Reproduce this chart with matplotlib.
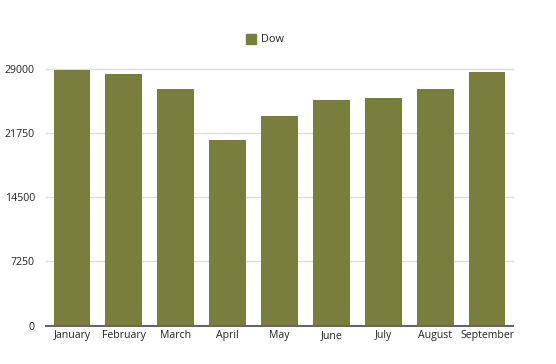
import matplotlib
matplotlib.use("Agg")
import matplotlib.pyplot as plt
from matplotlib.patches import Rectangle

months = ["January", "February", "March", "April", "May", "June", "July", "August", "September"]
dow = [28820, 28370, 26670, 20950, 23690, 25470, 25730, 26670, 28630]
yticks = [0, 7250, 14500, 21750, 29000]

plt.rcParams["font.family"] = ["Open Sans", "DejaVu Sans"]

fig = plt.figure(figsize=(5.56, 3.64), dpi=100)
W, H = 556, 364
left, right = 46, 513
bottom, top = 325.5, 68.7
ymax = 29000
ax = fig.add_axes([left / W, 1 - bottom / H, (right - left) / W, (bottom - top) / H])

bar_color = "#7a7e3c"
x = range(len(months))
ax.bar(x, dow, width=0.71, color=bar_color, zorder=2)
ax.set_xlim(-0.5, len(months) - 0.5)
ax.set_ylim(0, ymax)
ax.set_yticks(yticks)
ax.set_yticklabels([str(v) for v in yticks])
ax.set_xticks(list(x))
ax.set_xticklabels(months)
ax.tick_params(axis="both", length=0, labelsize=7.6, colors="#222222")
ax.tick_params(axis="y", pad=8)
ax.tick_params(axis="x", pad=3)

for v in yticks[1:]:
    ax.axhline(v, color="#dcdcdc", lw=1, zorder=1, clip_on=False)
ax.axhline(0, color="#666666", lw=1.5, zorder=3, clip_on=False)
for s in ax.spines.values():
    s.set_visible(False)
ax.set_facecolor("none")

# legend
fig.patches.append(Rectangle((246 / W, 1 - 43.5 / H), 9.5 / W, 9.5 / H,
                             transform=fig.transFigure, color=bar_color))
fig.text(261 / W, 1 - 39 / H, "Dow", fontsize=7.8, va="center", ha="left", color="#222222")

fig.savefig("out.png", dpi=100)
